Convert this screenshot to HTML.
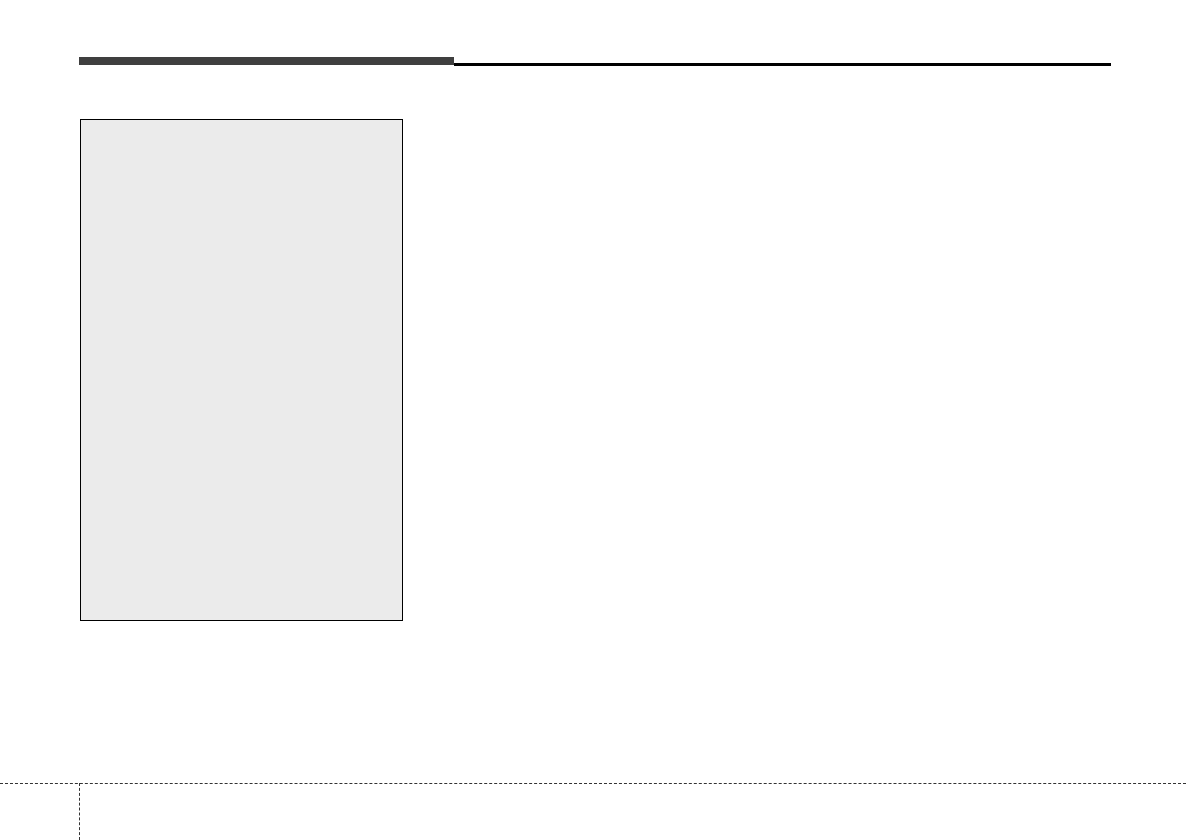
<!DOCTYPE html>
<html><head><meta charset="utf-8"><style>
html,body{margin:0;padding:0;background:#fff;}
body{width:1186px;height:840px;position:relative;overflow:hidden;}
.bar{position:absolute;left:79px;top:57px;width:375px;height:8px;background:#3f3f3f;}
.line{position:absolute;left:454px;top:63px;width:657px;height:3px;background:#000;}
.box{position:absolute;left:80px;top:119px;width:321px;height:500px;background:#ebebeb;border:1px solid #000;}
.dh{position:absolute;left:0;top:783px;width:1186px;height:0;border-top:1px dashed #333;}
.dv{position:absolute;left:79px;top:783px;width:0;height:57px;border-left:1px dashed #333;}
</style></head><body>
<div class="bar"></div><div class="line"></div>
<div class="box"></div>
<div class="dh"></div><div class="dv"></div>
</body></html>
